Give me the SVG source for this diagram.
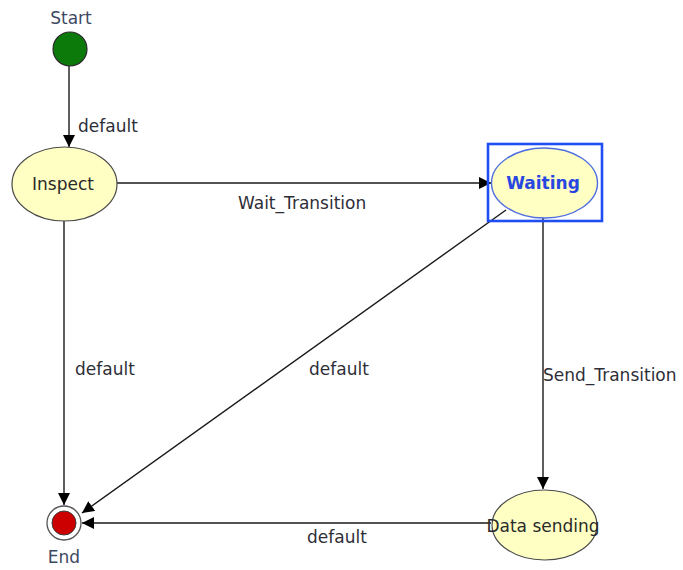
<svg xmlns="http://www.w3.org/2000/svg" width="683" height="570" viewBox="0 0 683 570">
  <style>
    text { font-family: "DejaVu Sans", "Liberation Sans", sans-serif; font-size: 17px; }
    .lbl { fill: #2e2e38; }
    .term { fill: #3d4963; text-anchor: middle; }
    .state { fill: #ffffc4; stroke: #4a4a4a; stroke-width: 1.2; }
    .name { fill: #2a2a2a; text-anchor: middle; }
    .edge { fill: none; stroke: #1a1a1a; stroke-width: 1.4; marker-end: url(#arr); }
  </style>
  <defs>
    <marker id="arr" viewBox="0 0 12 12" refX="12" refY="6" markerWidth="12" markerHeight="12" markerUnits="userSpaceOnUse" orient="auto">
      <path d="M0,0 L12,6 L0,12 Z" fill="#000"/>
    </marker>
  </defs>
  <rect width="683" height="570" fill="#fff"/>

  <g id="connectors">
    <line class="edge" x1="69" y1="66" x2="69" y2="147"/>
    <line class="edge" x1="117" y1="183" x2="491" y2="183"/>
    <line class="edge" x1="64" y1="221" x2="64" y2="505"/>
    <line class="edge" x1="506" y1="210" x2="82" y2="513"/>
    <line class="edge" x1="543" y1="218" x2="543" y2="489"/>
    <line class="edge" x1="491" y1="523" x2="82" y2="523"/>
    <text class="lbl" x="78" y="132">default</text>
    <text class="lbl" x="238" y="209">Wait_Transition</text>
    <text class="lbl" x="75" y="375">default</text>
    <text class="lbl" x="309" y="375">default</text>
    <text class="lbl" x="543" y="381">Send_Transition</text>
    <text class="lbl" x="307" y="543">default</text>
  </g>

  <g id="start">
    <text class="term" x="71" y="24">Start</text>
    <circle cx="70" cy="49" r="17" fill="#0b7a0b" stroke="#2a2a2a" stroke-width="1.2"/>
  </g>

  <g id="inspect">
    <ellipse class="state" cx="64.5" cy="184" rx="52.5" ry="37"/>
    <text class="name" x="63" y="190">Inspect</text>
  </g>

  <g id="waiting">
    <rect x="488" y="144" width="114" height="77" fill="none" stroke="#1f4ef5" stroke-width="2.6"/>
    <ellipse cx="544.5" cy="183" rx="53" ry="35" fill="#ffffc4" stroke="#4f6fe0" stroke-width="1.4"/>
    <text x="543" y="189" text-anchor="middle" font-weight="bold" fill="#2846e0">Waiting</text>
  </g>

  <g id="data-sending">
    <ellipse class="state" cx="544.5" cy="525" rx="52.5" ry="35"/>
    <text class="name" x="543" y="532" font-size="16.3">Data sending</text>
  </g>

  <g id="end">
    <circle cx="64" cy="523" r="17" fill="#fff" stroke="#555" stroke-width="1.3"/>
    <circle cx="64" cy="523" r="12" fill="#cc0000" stroke="#3a3a3a" stroke-width="1"/>
    <text class="term" x="64" y="563">End</text>
  </g>
</svg>
